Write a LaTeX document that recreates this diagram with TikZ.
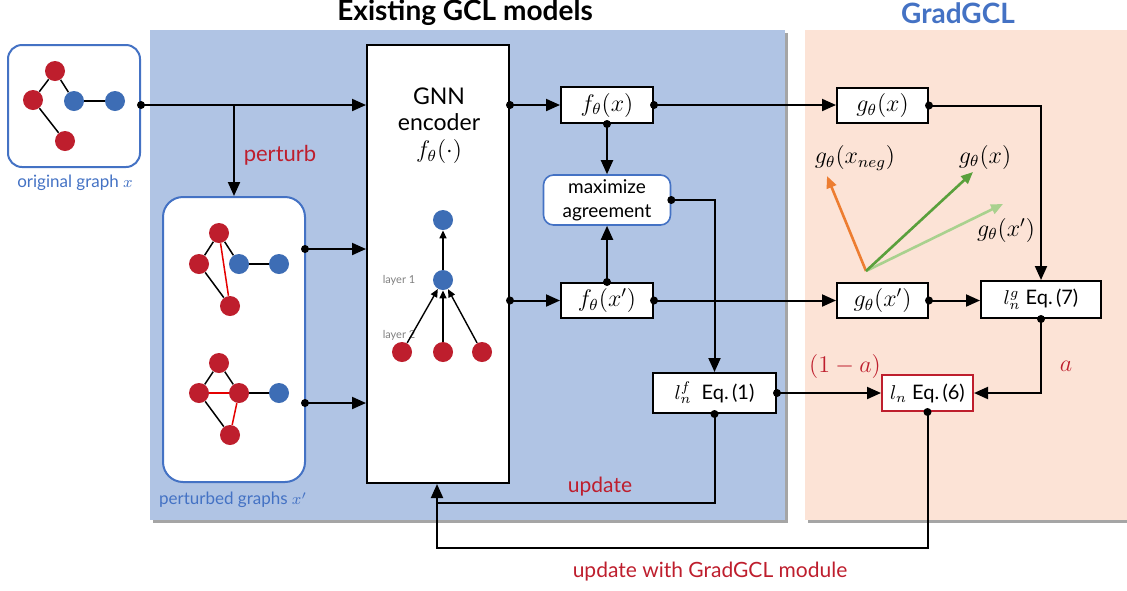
\documentclass[tikz,border=0pt]{standalone}
\usepackage{fontspec}
\setmainfont{Lato}
\usetikzlibrary{arrows.meta}
\definecolor{panelblue}{RGB}{176,196,228}
\definecolor{panelpeach}{RGB}{252,227,214}
\definecolor{shadowgray}{RGB}{165,165,165}
\definecolor{gblue}{RGB}{61,109,181}
\definecolor{gred}{RGB}{190,30,45}
\definecolor{borderblue}{RGB}{68,114,196}
\definecolor{vorange}{RGB}{237,125,49}
\definecolor{vgreen}{RGB}{90,160,60}
\definecolor{vlight}{RGB}{169,209,142}
\newcommand{\fsz}[1]{\fontsize{#1}{1.2\dimexpr#1\relax}\selectfont}
\tikzset{
  gbox/.style={draw=borderblue, line width=1pt, fill=white, rounded corners=7pt, inner sep=0pt},
  box/.style={draw=black, line width=1pt, fill=white, inner sep=0pt, font=\fsz{10pt}},
  conn/.style={line width=1pt, -{Triangle[length=7pt,width=6pt]}},
  wire/.style={line width=1pt},
  dot/.style={circle, fill=black, inner sep=0pt, minimum size=4pt},
  rv/.style={circle, fill=gred, inner sep=0pt, minimum size=10pt},
  bv/.style={circle, fill=gblue, inner sep=0pt, minimum size=10pt},
  edge/.style={line width=0.75pt, black},
  redge/.style={line width=0.75pt, red!90!black},
  vec/.style={line width=1.3pt, -{Triangle[length=6pt,width=5pt]}},
  redtxt/.style={text=gred},
}
\begin{document}
\begin{tikzpicture}[x=0.5pt,y=-0.5pt]
\useasboundingbox (0,0) rectangle (1127,590);

% background panels with shadows
\fill[shadowgray] (153,33) rectangle (788,523);
\fill[panelblue] (150,30) rectangle (785,520);
\fill[shadowgray] (808,33) rectangle (1127,523);
\fill[panelpeach] (805,30) rectangle (1127,520);

% headers
\node[font=\fsz{14pt}\bfseries] (hdrA) at (465,13) {Existing GCL models};
\node[font=\fsz{14pt}\bfseries, text=borderblue] (hdrB) at (958,13) {GradGCL};

% original graph
\node[gbox, minimum width=66pt, minimum height=61pt] (orig) at (74,106) {};
\node[font=\fsz{8.5pt}, text=borderblue] (origlbl) at (75,183) {original graph $x$};
\node[rv] (o1) at (55,71) {};
\node[rv] (o2) at (33,100) {};
\node[rv] (o3) at (65,141) {};
\node[bv] (o4) at (74,101) {};
\node[bv] (o5) at (115,101) {};
\draw[edge] (o1) -- (o2);
\draw[edge] (o1) -- (o4);
\draw[edge] (o4) -- (o5);
\draw[edge] (o2) -- (o3);

% perturbed graphs
\node[gbox, rounded corners=10pt, minimum width=71pt, minimum height=142.5pt] (pert) at (234,339.5) {};
\node[font=\fsz{8.5pt}, text=borderblue] (pertlbl) at (233,500) {perturbed graphs $x'$};
\node[rv] (a1) at (219,233) {};
\node[rv] (a2) at (199,264) {};
\node[rv] (a3) at (230,306) {};
\node[bv] (a4) at (239,264) {};
\node[bv] (a5) at (279,264) {};
\draw[edge] (a1) -- (a2);
\draw[edge] (a1) -- (a4);
\draw[edge] (a4) -- (a5);
\draw[edge] (a2) -- (a3);
\draw[redge] (a1) -- (a3);
\node[rv] (b1) at (219,363) {};
\node[rv] (b2) at (199,393) {};
\node[rv] (b3) at (239,393) {};
\node[rv] (b4) at (230,435) {};
\node[bv] (b5) at (279,393) {};
\draw[edge] (b1) -- (b2);
\draw[edge] (b1) -- (b3);
\draw[edge] (b3) -- (b5);
\draw[edge] (b2) -- (b4);
\draw[redge] (b2) -- (b3);
\draw[redge] (b3) -- (b4);

% GNN encoder
\node[box, minimum width=71pt, minimum height=219pt] (enc) at (438,264) {};
\node[font=\fsz{11.5pt}, align=center] (enctxt) at (439,126) {GNN\\[-1pt] encoder\\[0pt] $f_\theta(\cdot)$};
\node[bv] (e1) at (443,220) {};
\node[bv] (e2) at (443,280) {};
\node[rv] (e3) at (402,352) {};
\node[rv] (e4) at (443,352) {};
\node[rv] (e5) at (482,352) {};
\node[font=\fsz{5.5pt}, text=gray] (lay1) at (399,280) {layer 1};
\node[font=\fsz{5.5pt}, text=gray] (lay2) at (399,335) {layer 2};
\draw[line width=0.7pt, -{Triangle[length=4pt,width=3.5pt]}] (e2) -- (e1);
\draw[line width=0.7pt, -{Triangle[length=4pt,width=3.5pt]}] (e3) -- (e2);
\draw[line width=0.7pt, -{Triangle[length=4pt,width=3.5pt]}] (e4) -- (e2);
\draw[line width=0.7pt, -{Triangle[length=4pt,width=3.5pt]}] (e5) -- (e2);

% embedding boxes
\node[box, minimum width=46pt, minimum height=18pt, font=\fsz{11.5pt}] (fx) at (607,105) {$f_\theta(x)$};
\node[box, minimum width=46pt, minimum height=17.5pt, font=\fsz{11.5pt}] (fxp) at (607,300.5) {$f_\theta(x')$};
\node[draw=borderblue, line width=0.8pt, fill=white, rounded corners=5pt, inner sep=0pt,
      minimum width=63.5pt, minimum height=25pt, align=center, font=\fsz{9.5pt}] (agree) at (607,200)
      {maximize\\[0.5pt] agreement};
\node[box, minimum width=61.5pt, minimum height=20pt] (lf) at (714.5,393) {$l_n^f$\ \ Eq.\,(1)};
\node[box, minimum width=45.5pt, minimum height=17.5pt, font=\fsz{11.5pt}] (gx) at (882.5,105.5) {$g_\theta(x)$};
\node[box, minimum width=45.5pt, minimum height=17.5pt, font=\fsz{11.5pt}] (gxp) at (882.5,300.5) {$g_\theta(x')$};
\node[box, minimum width=60pt, minimum height=18.5pt] (lg) at (1041,299.5) {$l_n^g$\ Eq.\,(7)};
\node[box, draw=gred, minimum width=45.5pt, minimum height=18pt] (ln) at (927.5,393) {$l_n$ Eq.\,(6)};

% input connectors
\coordinate (br) at (234,105);
\draw[conn] (orig.east |- br) node[dot]{} -- (br -| enc.west);
\draw[conn] (br) -- (pert.north);
\coordinate (p1) at (305,249);
\coordinate (p2) at (305,403);
\draw[conn] (p1) node[dot]{} -- (p1 -| enc.west);
\draw[conn] (p2) node[dot]{} -- (p2 -| enc.west);

% encoder outputs
\draw[conn] (enc.east |- fx) node[dot]{} -- (fx.west);
\draw[conn] (enc.east |- fxp) node[dot]{} -- (fxp.west);
\draw[conn] (fx.south) node[dot]{} -- (agree.north);
\draw[conn] (fxp.north) node[dot]{} -- (agree.south);
\draw[conn] (agree.east) node[dot]{} -| (lf.north);

% projection heads
\draw[conn] (fx.east) node[dot]{} -- (gx.west |- fx.east);
\draw[conn] (fxp.east) node[dot]{} -- (gxp.west);
\draw[conn] (gx.east) node[dot]{} -| (lg.north);
\draw[conn] (gxp.east) node[dot]{} -- (lg.west |- gxp.east);
\draw[conn] (lg.south) node[dot]{} |- (ln.east);
\draw[conn] (lf.east) node[dot]{} -- (ln.west);

% update loops
\coordinate (u1) at (437,503);
\coordinate (u2) at (437,548);
\draw[conn] (lf.south) node[dot]{} |- (u1) -- (u1 |- enc.south);
\draw[wire] (ln.south) node[dot]{} |- (u2) -- (u1);

% labels
\node[redtxt, font=\fsz{11pt}] (perturb) at (280,155) {perturb};
\node[redtxt, font=\fsz{10.5pt}] (upd) at (600,487) {update};
\node[redtxt, font=\fsz{10.5pt}] (upd2) at (710,572) {update with GradGCL module};
\node[redtxt, font=\fsz{12pt}] (oma) at (845,366) {$(1-a)$};
\node[redtxt, font=\fsz{12pt}] (alab) at (1066,366) {$a$};

% embedding space vectors
\coordinate (vo) at (866,271);
\coordinate (vneg) at (827,176);
\coordinate (vpos) at (973,172);
\coordinate (vaug) at (1003,204);
\draw[vec, vorange] (vo) -- (vneg);
\draw[vec, vlight] (vo) -- (vaug);
\draw[vec, vgreen] (vo) -- (vpos);
\node[font=\fsz{11.5pt}] (lneg) at (855,158) {$g_\theta(x_{neg})$};
\node[font=\fsz{11.5pt}] (lpos) at (985,157) {$g_\theta(x)$};
\node[font=\fsz{11.5pt}] (laug) at (1006,230) {$g_\theta(x')$};
\end{tikzpicture}
\end{document}
